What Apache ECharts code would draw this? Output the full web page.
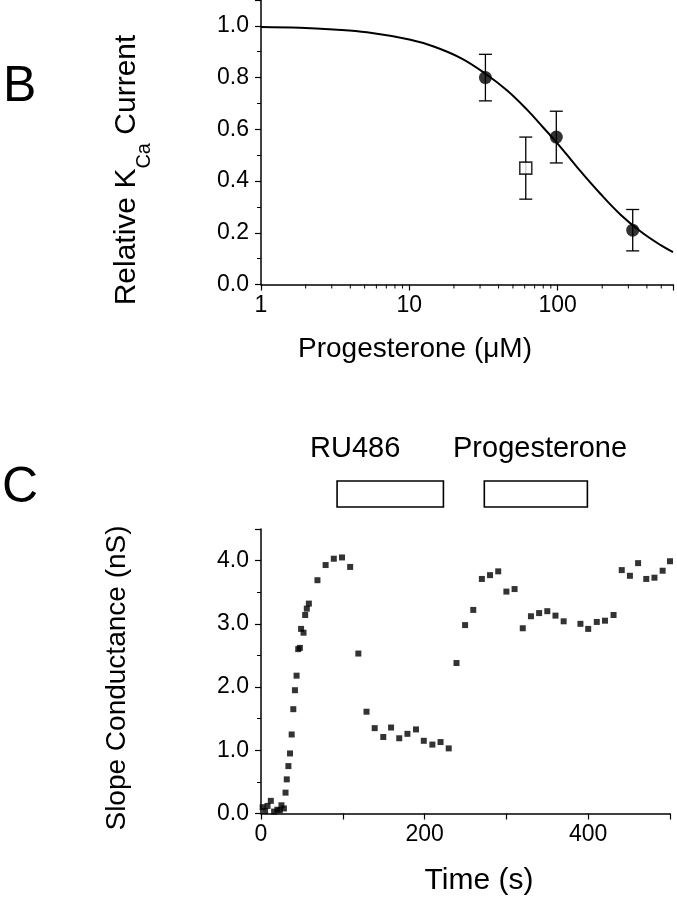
<!DOCTYPE html>
<html>
<head>
<meta charset="utf-8">
<script src="https://cdn.jsdelivr.net/npm/echarts@6.0.0/dist/echarts.min.js"></script>
<style>
html,body{margin:0;padding:0;background:#fff;}
#chart{width:677px;height:900px;}
</style>
</head>
<body>
<div id="chart"></div>
<script>
// ---------- Panel B data ----------
const progConc = [32.6, 98, 321];            // µM
const progRel = [0.80, 0.57, 0.21];
const progErrLow = [0.71, 0.47, 0.13];
const progErrHigh = [0.89, 0.67, 0.29];

const ruConc = [61];
const ruRel = [0.45];
const ruErrLow = [0.33];
const ruErrHigh = [0.57];

// fitted curve
const fitX = [1, 1.83, 3.08, 5.18, 10, 14.6, 22.1, 32.6, 45.7, 62.4, 80.8, 100, 135.6, 195, 266, 363, 496, 600];
const fitY = [0.996, 0.993, 0.986, 0.975, 0.947, 0.92, 0.876, 0.815, 0.75, 0.675, 0.604, 0.545, 0.453, 0.35, 0.27, 0.205, 0.152, 0.125];

const logMinorTicks = [2,3,4,5,6,7,8,9,20,30,40,50,60,70,80,90,200,300,400,500];

// ---------- Panel C data ----------
const timeS = [2,5,8,12,16,20,23,25,28,
  30,31.5,33.5,35.5,37.5,39.5,41.5,43.5,45.5,47.5,49,52,54,56,58.5,69,79,89,99,109,
  119,129,139,149.5,159,169,179,189.5,199,209.5,219.5,229.5,
  239,249.5,259.5,270,280,290,300,310,320,330,340,350,360,370,390.5,400,410.5,420.5,431,
  441,451,461,471,481,491,500];
const conductanceNS = [0.1,0.04,0.12,0.2,0.03,0.06,0.05,0.13,0.08,
  0.33,0.54,0.75,0.95,1.25,1.65,1.95,2.18,2.6,2.62,2.92,2.86,3.14,3.24,3.32,3.69,3.93,4.03,4.05,3.9,
  2.53,1.61,1.35,1.21,1.36,1.19,1.26,1.33,1.15,1.09,1.13,1.03,
  2.38,2.98,3.22,3.71,3.77,3.83,3.51,3.55,2.93,3.12,3.17,3.2,3.13,3.04,3.0,2.92,3.03,3.05,3.14,
  3.85,3.76,3.96,3.71,3.73,3.84,3.99];

const treatmentNames = ['RU486', 'Progesterone'];
const treatmentStart = [93, 273];
const treatmentEnd = [223, 399];

const FONT = 'Liberation Sans, Arial, Helvetica, sans-serif';

const chart = echarts.init(document.getElementById('chart'), null, {renderer: 'canvas'});

function errBarRender(params, api) {
  const x = api.value(0), lo = api.value(1), hi = api.value(2);
  const pLo = api.coord([x, lo]), pHi = api.coord([x, hi]);
  const w = 6.5;
  const st = {stroke: '#000', lineWidth: 1.3};
  return {type: 'group', children: [
    {type: 'line', shape: {x1: pLo[0], y1: pLo[1], x2: pHi[0], y2: pHi[1]}, style: st},
    {type: 'line', shape: {x1: pLo[0] - w, y1: pLo[1], x2: pLo[0] + w, y2: pLo[1]}, style: st},
    {type: 'line', shape: {x1: pHi[0] - w, y1: pHi[1], x2: pHi[0] + w, y2: pHi[1]}, style: st}
  ]};
}

const axisCommon = {
  axisLine: {show: true, lineStyle: {color: '#000', width: 1.5}},
  axisTick: {show: true, inside: false, length: 6, lineStyle: {color: '#000', width: 1.2}},
  splitLine: {show: false},
  axisLabel: {color: '#000', fontSize: 23, fontFamily: FONT}
};

const option = {
  backgroundColor: '#fff',
  animation: false,
  grid: [
    {left: 261, top: 0, width: 412, height: 284.5},
    {left: 261, top: 481, width: 409, height: 26},
    {left: 261, top: 529, width: 409, height: 284.5}
  ],
  xAxis: [
    Object.assign({}, axisCommon, {
      gridIndex: 0, type: 'log', logBase: 10, min: 1, max: 600,
      axisLabel: Object.assign({}, axisCommon.axisLabel, {margin: 10,
        formatter: function (v) { const l = Math.log10(v); return Math.abs(l - Math.round(l)) < 1e-6 ? String(Math.round(v)) : ''; }})
    }),
    {gridIndex: 1, type: 'value', min: 0, max: 500, show: false},
    Object.assign({}, axisCommon, {
      gridIndex: 2, type: 'value', min: 0, max: 500, interval: 100,
      axisLabel: Object.assign({}, axisCommon.axisLabel, {margin: 10,
        formatter: function (v) { return v % 200 === 0 ? String(v) : ''; }})
    })
  ],
  yAxis: [
    Object.assign({}, axisCommon, {
      gridIndex: 0, type: 'value', min: 0, max: 1.1, interval: 0.2,
      minorTick: {show: true, splitNumber: 2, length: 4, lineStyle: {color: '#000', width: 1}},
      axisLabel: Object.assign({}, axisCommon.axisLabel, {margin: 12,
        formatter: function (v) { return v <= 1.0001 ? v.toFixed(1) : ''; }})
    }),
    {gridIndex: 1, type: 'value', min: 0, max: 1, show: false},
    Object.assign({}, axisCommon, {
      gridIndex: 2, type: 'value', min: 0, max: 4.5, interval: 1,
      minorTick: {show: true, splitNumber: 2, length: 4, lineStyle: {color: '#000', width: 1}},
      axisLabel: Object.assign({}, axisCommon.axisLabel, {margin: 12,
        formatter: function (v) { return v <= 4.0001 ? v.toFixed(1) : ''; }})
    })
  ],
  series: [
    {
      type: 'line', xAxisIndex: 0, yAxisIndex: 0, smooth: 0.4, showSymbol: false,
      lineStyle: {color: '#000', width: 2}, z: 2,
      data: fitX.map((x, i) => [x, fitY[i]])
    },
    {
      type: 'custom', xAxisIndex: 0, yAxisIndex: 0, z: 3,
      renderItem: errBarRender, encode: {x: 0, y: [1, 2]},
      data: progConc.map((c, i) => [c, progErrLow[i], progErrHigh[i]])
        .concat(ruConc.map((c, i) => [c, ruErrLow[i], ruErrHigh[i]]))
    },
    {
      type: 'scatter', xAxisIndex: 0, yAxisIndex: 0, z: 5, symbol: 'circle', symbolSize: 13,
      itemStyle: {color: '#000'},
      data: progConc.map((c, i) => [c, progRel[i]])
    },
    {
      type: 'scatter', xAxisIndex: 0, yAxisIndex: 0, z: 5, symbol: 'rect', symbolSize: 12,
      itemStyle: {color: '#fff', borderColor: '#000', borderWidth: 1.6},
      data: ruConc.map((c, i) => [c, ruRel[i]])
    },
    {
      type: 'custom', xAxisIndex: 0, yAxisIndex: 0, z: 4, silent: true,
      renderItem: function (params, api) {
        const p = api.coord([api.value(0), 0]);
        return {type: 'line', shape: {x1: p[0], y1: p[1], x2: p[0], y2: p[1] + 4},
          style: {stroke: '#000', lineWidth: 1}};
      },
      data: logMinorTicks.map(v => [v, 0])
    },
    {
      type: 'custom', xAxisIndex: 1, yAxisIndex: 1, z: 3,
      renderItem: function (params, api) {
        const a = api.coord([api.value(0), 1]);
        const b = api.coord([api.value(1), 0]);
        return {type: 'rect', shape: {x: a[0], y: a[1], width: b[0] - a[0], height: b[1] - a[1]},
          style: {fill: '#fff', stroke: '#000', lineWidth: 1.6}};
      },
      encode: {x: [0, 1]},
      data: treatmentStart.map((s, i) => [s, treatmentEnd[i]])
    },
    {
      type: 'scatter', xAxisIndex: 2, yAxisIndex: 2, z: 5, symbol: 'rect', symbolSize: 6,
      itemStyle: {color: '#000'},
      data: timeS.map((t, i) => [t, conductanceNS[i]])
    }
  ],
  graphic: [
    {type: 'text', x: 3, y: 87, style: {text: 'B', font: '50px ' + FONT, fill: '#000', textAlign: 'left', textVerticalAlign: 'middle'}},
    {type: 'text', x: 2, y: 488, style: {text: 'C', font: '50px ' + FONT, fill: '#000', textAlign: 'left', textVerticalAlign: 'middle'}},
    {type: 'text', x: 127, y: 170, rotation: Math.PI / 2, style: {
      text: '{m|Relative K}{sub|Ca}{m| Current}', fill: '#000', textAlign: 'center', textVerticalAlign: 'middle',
      rich: {
        m: {fontSize: 30, fontFamily: FONT, fill: '#000', verticalAlign: 'middle'},
        sub: {fontSize: 20, fontFamily: FONT, fill: '#000', lineHeight: 20, verticalAlign: 'middle', padding: [34, 0, 0, 0]}
      }}},
    {type: 'text', x: 415, y: 349, style: {text: 'Progesterone (\u03bcM)', font: '28px ' + FONT, fill: '#000', textAlign: 'center', textVerticalAlign: 'middle'}},
    {type: 'text', x: 117, y: 678, rotation: Math.PI / 2, style: {text: 'Slope Conductance (nS)', font: '28px ' + FONT, fill: '#000', textAlign: 'center', textVerticalAlign: 'middle'}},
    {type: 'text', x: 479, y: 881, style: {text: 'Time (s)', font: '30px ' + FONT, fill: '#000', textAlign: 'center', textVerticalAlign: 'middle'}},
    {type: 'text', x: 310, y: 449, style: {text: treatmentNames[0], font: '29px ' + FONT, fill: '#000', textAlign: 'left', textVerticalAlign: 'middle'}},
    {type: 'text', x: 453, y: 449, style: {text: treatmentNames[1], font: '29px ' + FONT, fill: '#000', textAlign: 'left', textVerticalAlign: 'middle'}}
  ]
};
chart.setOption(option);
</script>
</body>
</html>
